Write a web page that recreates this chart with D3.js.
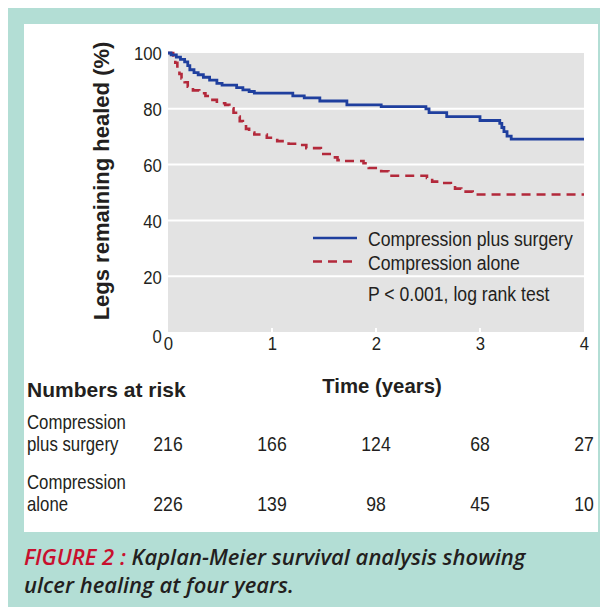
<!DOCTYPE html>
<html>
<head>
<meta charset="utf-8">
<script src="https://cdn.jsdelivr.net/npm/d3@7"></script>
<style>
  body { margin: 0; background: #fff; }
  svg text { fill: #231f20; }
</style>
</head>
<body>
<div id="chart"></div>
<script>
// Kaplan-Meier steps (time in years, % remaining healed)
var surgeryTimes = [0, 0.03, 0.08, 0.12, 0.16, 0.19, 0.21, 0.25, 0.29, 0.34, 0.40, 0.47, 0.52, 0.66, 0.72, 0.78, 0.83, 1.20, 1.31, 1.46, 1.72, 2.05, 2.48, 2.51, 2.68, 3.00, 3.19, 3.21, 3.23, 3.26, 3.30, 4.0]
var surgeryHealed = [100, 99.3, 98.5, 97.7, 96.8, 95.5, 94, 93, 92.2, 91.3, 90.3, 89.1, 88.5, 87.6, 86.8, 86.2, 85.6, 84.6, 83.9, 82.8, 81.4, 80.8, 80.0, 78.6, 77.2, 75.8, 74.8, 73.3, 71.8, 70.2, 69.1, 69.1]
var aloneTimes = [0, 0.05, 0.07, 0.09, 0.11, 0.13, 0.16, 0.19, 0.24, 0.30, 0.36, 0.40, 0.47, 0.55, 0.59, 0.63, 0.67, 0.69, 0.72, 0.75, 0.78, 0.83, 0.95, 1.05, 1.16, 1.27, 1.33, 1.47, 1.58, 1.63, 1.67, 1.88, 1.93, 2.05, 2.12, 2.49, 2.54, 2.60, 2.72, 2.76, 2.82, 2.93, 4.0]
var aloneHealed = [100, 98, 96.5, 94.5, 92.5, 90.9, 89.5, 87.9, 86.6, 85.6, 84.6, 83.2, 82, 81.4, 80.2, 78.6, 77.2, 75.6, 74.2, 72.8, 71.5, 70.8, 69.6, 68.4, 67.5, 67.0, 65.9, 63.8, 62.6, 61.6, 61.3, 60.5, 58.8, 57.6, 56.0, 55.2, 53.9, 53.4, 52.4, 51.4, 50.3, 49.3, 49.3]

var seriesNames = ["Compression plus surgery", "Compression alone"]
var riskLabels = [["Compression", "plus surgery"], ["Compression", "alone"]]
var riskSurgery = [216, 166, 124, 68, 27]
var riskAlone = [226, 139, 98, 45, 10]
var yearTicks = [0, 1, 2, 3, 4]
var pctTicks = [0, 20, 40, 60, 80, 100]

var W = 600, H = 607
var sans = "'Liberation Sans', Arial, sans-serif"
var narrow = 0.84   // squeeze regular text to look like the condensed face

var svg = d3.select("#chart").append("svg")
  .attr("width", W)
  .attr("height", H)
  .style("font-family", sans)

// put a text at x,y squeezed horizontally
function place(sel, px, py, s) {
  return sel.attr("transform", "translate(" + px + "," + py + ") scale(" + s + ",1)")
}

// teal frame + white panel
svg.append("rect").attr("x", 8).attr("y", 8).attr("width", W - 8).attr("height", H - 8).attr("fill", "#b3ded5")
svg.append("rect").attr("x", 24).attr("y", 24).attr("width", 574).attr("height", 508).attr("fill", "#fff")

var x = d3.scaleLinear().domain([0, 4]).range([168, 584])
var y = d3.scaleLinear().domain([0, 100]).range([332, 53])

svg.append("rect")
  .attr("x", x(0)).attr("y", y(100))
  .attr("width", x(4) - x(0)).attr("height", y(0) - y(100))
  .attr("fill", "#e3e3e3")

svg.selectAll(".grid")
  .data(pctTicks.filter(function(d){ return d > 0 && d < 100 }))
  .enter().append("line")
  .attr("class", "grid")
  .attr("x1", x(0)).attr("x2", x(4))
  .attr("y1", function(d){ return y(d) }).attr("y2", function(d){ return y(d) })
  .attr("stroke", "#fff").attr("stroke-width", 2)

svg.selectAll(".xtickmark")
  .data(yearTicks.slice(1, 4))
  .enter().append("line")
  .attr("x1", function(d){ return x(d) }).attr("x2", function(d){ return x(d) })
  .attr("y1", y(0)).attr("y2", y(0) - 4)
  .attr("stroke", "#fff").attr("stroke-width", 2)

// axes
var yAxis = svg.append("g")
  .attr("transform", "translate(" + x(0) + ",0)")
  .call(d3.axisLeft(y).tickValues(pctTicks).tickSize(0).tickPadding(7))
yAxis.select(".domain").remove()
yAxis.selectAll("text")
  .style("font-size", "19px").style("font-family", sans).style("fill", "#231f20")
  .attr("transform", "scale(0.88,1)")
  .attr("dy", function(d){ return d == 0 ? "0.55em" : "0.36em" })

var xAxis = svg.append("g")
  .attr("transform", "translate(0," + y(0) + ")")
  .call(d3.axisBottom(x).tickValues(yearTicks).tickFormat(d3.format("d")).tickSize(0).tickPadding(5))
xAxis.select(".domain").remove()
xAxis.selectAll("text")
  .style("font-size", "19px").style("font-family", sans).style("fill", "#231f20")
  .attr("transform", "scale(0.88,1)")

svg.append("text")
  .attr("transform", "translate(109,181) rotate(-90)")
  .attr("text-anchor", "middle")
  .style("font-size", "22px").style("font-weight", "bold")
  .text("Legs remaining healed (%)")

place(svg.append("text"), 382, 393, 0.97)
  .attr("text-anchor", "middle")
  .style("font-size", "21px").style("font-weight", "bold")
  .text("Time (years)")

// curves
var line = d3.line()
  .x(function(d){ return x(d[0]) })
  .y(function(d){ return y(d[1]) })
  .curve(d3.curveStepAfter)

var surgeryPts = d3.zip(surgeryTimes, surgeryHealed)
var alonePts = d3.zip(aloneTimes, aloneHealed)

svg.append("path").datum(alonePts)
  .attr("d", line).attr("fill", "none")
  .attr("stroke", "#b3293b").attr("stroke-width", 2.6)
  .attr("stroke-dasharray", "9,6")

svg.append("path").datum(surgeryPts)
  .attr("d", line).attr("fill", "none")
  .attr("stroke", "#1f3f9e").attr("stroke-width", 2.8)

// legend
var legend = svg.append("g")
legend.selectAll("line")
  .data(seriesNames)
  .enter().append("line")
  .attr("x1", 313).attr("x2", 357)
  .attr("y1", function(d, i){ return 238 + i * 23.5 }).attr("y2", function(d, i){ return 238 + i * 23.5 })
  .attr("stroke", function(d, i){ return i == 0 ? "#1f3f9e" : "#b3293b" })
  .attr("stroke-width", 2.6)
  .attr("stroke-dasharray", function(d, i){ return i == 0 ? null : "9,6" })
legend.selectAll("text")
  .data(seriesNames)
  .enter().append("text")
  .attr("transform", function(d, i){ return "translate(368," + (246 + i * 23.5) + ") scale(" + narrow + ",1)" })
  .style("font-size", "21px")
  .text(function(d){ return d })
place(svg.append("text"), 368, 301, narrow)
  .style("font-size", "21px")
  .text("P < 0.001, log rank test")

// numbers at risk
place(svg.append("text"), 27, 397, 1)
  .style("font-size", "21px").style("font-weight", "bold")
  .text("Numbers at risk")

var rows = [riskSurgery, riskAlone]
rows.forEach(function(r, i){
  var base = 451 + i * 60
  place(svg.append("text"), 27, base - 22, narrow)
    .style("font-size", "20px").text(riskLabels[i][0])
  place(svg.append("text"), 27, base, narrow)
    .style("font-size", "20px").text(riskLabels[i][1])
  svg.selectAll(".risk" + i)
    .data(r)
    .enter().append("text")
    .attr("class", "risk" + i)
    .attr("transform", function(d, j){ return "translate(" + x(yearTicks[j]) + "," + base + ") scale(" + narrow + ",1)" })
    .attr("text-anchor", "middle")
    .style("font-size", "21px")
    .text(function(d){ return d })
})

// caption
var cap = svg.append("text")
  .attr("x", 24).attr("y", 565)
  .style("font-family", "'Open Sans', sans-serif")
  .style("font-size", "22px").style("font-style", "italic").style("font-weight", "600")
cap.append("tspan").style("fill", "#c8102e").text("FIGURE 2 : ")
cap.append("tspan").text("Kaplan-Meier survival analysis showing")
svg.append("text")
  .attr("x", 24).attr("y", 593)
  .style("font-family", "'Open Sans', sans-serif")
  .style("font-size", "22px").style("font-style", "italic").style("font-weight", "600")
  .text("ulcer healing at four years.")
</script>
</body>
</html>
